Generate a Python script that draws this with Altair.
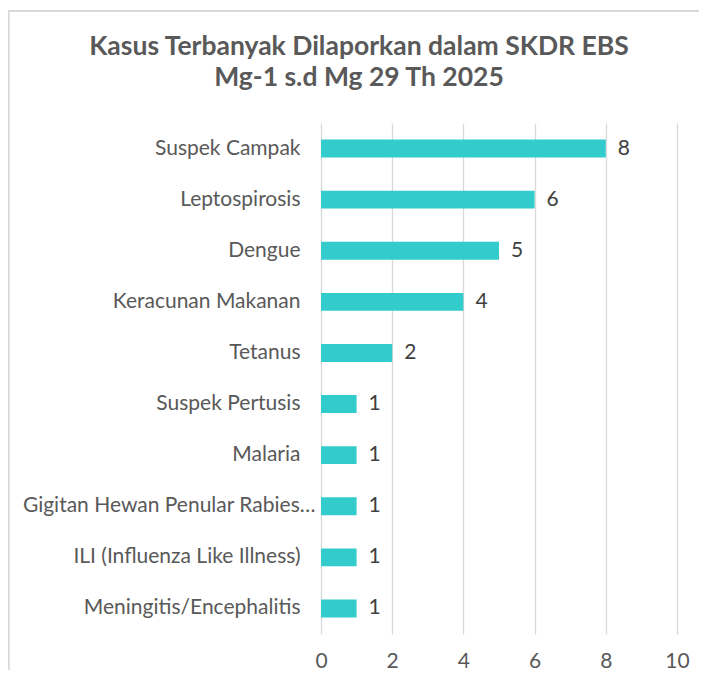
import altair as alt
import pandas as pd

categories = [
    "Suspek Campak",
    "Leptospirosis",
    "Dengue",
    "Keracunan Makanan",
    "Tetanus",
    "Suspek Pertusis",
    "Malaria",
    "Gigitan Hewan Penular Rabies…",
    "ILI (Influenza Like Illness)",
    "Meningitis/Encephalitis",
]
values = [8, 6, 5, 4, 2, 1, 1, 1, 1, 1]
x_ticks = [0, 2, 4, 6, 8, 10]
title_lines = ["Kasus Terbanyak Dilaporkan dalam SKDR EBS", "Mg-1 s.d Mg 29 Th 2025"]

df = pd.DataFrame({"kasus": categories, "jumlah": values})

FONT = "Lato"
GREY = "#595959"

y_enc = alt.Y(
    "kasus:N",
    sort=categories,
    title=None,
    scale=alt.Scale(paddingInner=0.65, paddingOuter=0.325),
    axis=alt.Axis(
        ticks=False, domain=False, labelFontSize=21, labelColor=GREY,
        labelFont=FONT, labelLimit=400, grid=False,
        labelPadding={"condition": {"test": "indexof(datum.label, 'Rabies') >= 0", "value": 6}, "value": 21},
    ),
)
x_enc = alt.X(
    "jumlah:Q",
    title=None,
    scale=alt.Scale(domain=[0, 10], nice=False),
    axis=alt.Axis(
        values=x_ticks, ticks=False, domain=False, labelFontSize=21,
        labelColor=GREY, labelFont=FONT, labelPadding=16, labelFlush=False,
        grid=True, gridColor="#D9D9D9", gridWidth=1.3,
    ),
)

frame = alt.Chart(df).mark_rect(
    fill=None, stroke="#D9D9D9", strokeWidth=1.3, clip=False
).encode(
    x=alt.value(-312.5), x2=alt.value(420), y=alt.value(-112), y2=alt.value(620)
)

bars = alt.Chart(df).mark_bar(color="#33CCCC").encode(y=y_enc, x=x_enc)

labels = alt.Chart(df).mark_text(
    align="left", baseline="middle", dx=12, fontSize=21, font=FONT, color="#404040"
).encode(y=alt.Y("kasus:N", sort=categories), x="jumlah:Q", text="jumlah:Q")

chart = alt.layer(frame, bars, labels).properties(
    width=356,
    height=511,
    autosize=alt.AutoSizeParams(type="none"),
    padding={"left": 313, "top": 115, "right": 22, "bottom": 36},
    title=alt.TitleParams(
        text=title_lines, fontSize=26.5, font=FONT, fontWeight="bold", color=GREY,
        anchor="middle", dx=-140, offset=-81, lineHeight=31,
    ),
).configure_view(stroke=None)

chart.save("out.html", embed_options={"renderer": "svg", "actions": False})
